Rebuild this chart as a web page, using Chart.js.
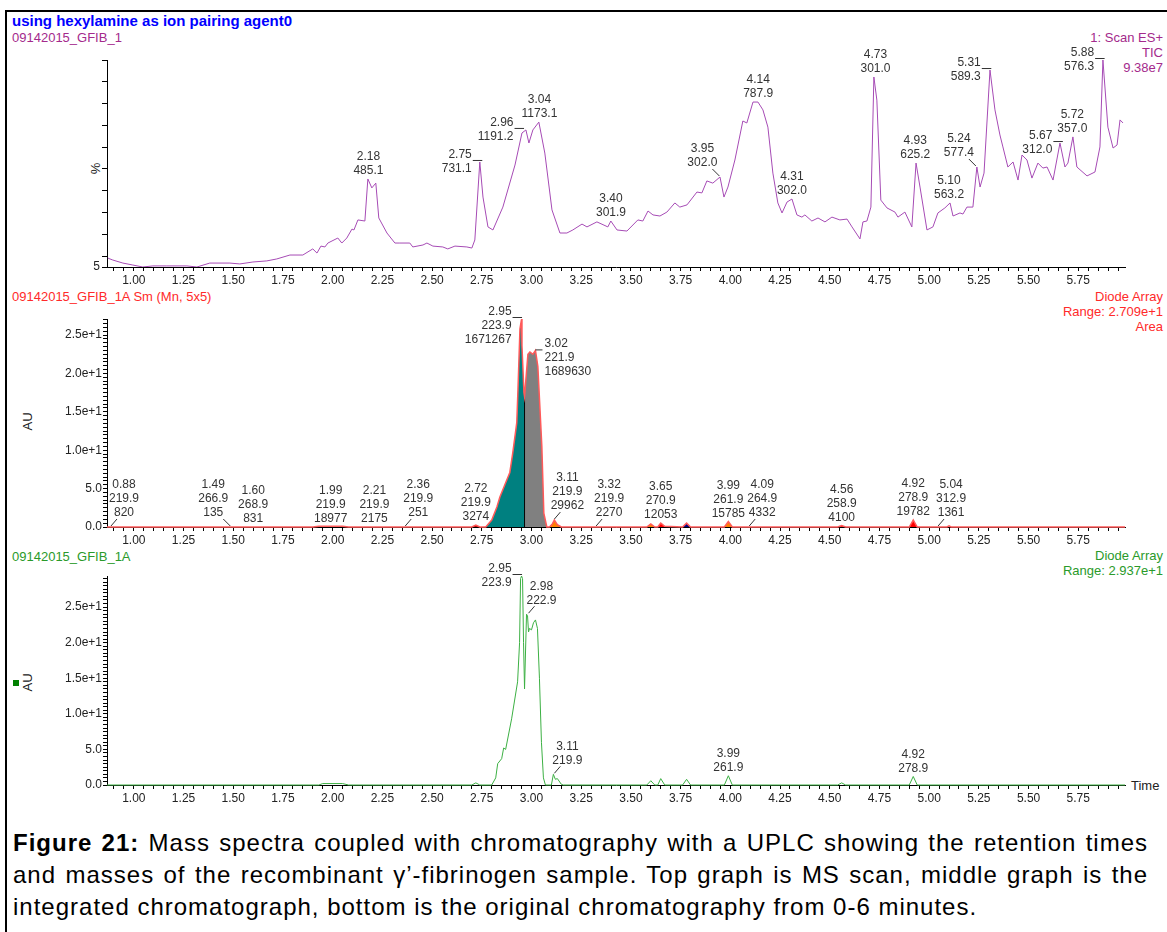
<!DOCTYPE html>
<html>
<head>
<meta charset="utf-8">
<script src="https://cdn.jsdelivr.net/npm/chart.js@4.4.0/dist/chart.umd.min.js"></script>
<style>
body { margin: 0; background: #fff; font-family: 'Liberation Sans', Arial, sans-serif; }
#page { position: relative; width: 1167px; height: 932px; overflow: hidden; }
.frame { position: absolute; left: 5px; top: 10px; width: 1180px; height: 960px; border-left: 2px solid #000; border-top: 2px solid #000; }
.t { position: absolute; font-size: 13px; line-height: 15px; white-space: nowrap; }
.rt { right: 4px; text-align: right; }
.rot { width: 30px; text-align: center; transform: rotate(-90deg); color: #222; }
.box { position: absolute; left: 0; }
.cap { position: absolute; left: 13px; top: 827px; width: 1135px; font-size: 24px; line-height: 32px; color: #000; letter-spacing: 1px; }
.cap div { white-space: nowrap; }
.j { text-align: justify; text-align-last: justify; }
</style>
</head>
<body>
<div id="page">
  <div class="frame"></div>

  <div class="t" style="left:12px;top:12px;line-height:17px;font-size:15px;color:#0000ff;font-weight:bold;">using hexylamine as ion pairing agent0</div>
  <div class="t" style="left:12px;top:30px;color:#a42a8c;">09142015_GFIB_1</div>
  <div class="t rt" style="top:30px;color:#a42a8c;">1: Scan ES+<br>TIC<br>9.38e7</div>
  <div class="t rot" style="left:80px;top:161px;">%</div>

  <div class="t" style="left:12px;top:289px;color:#ff2a2a;">09142015_GFIB_1A Sm (Mn, 5x5)</div>
  <div class="t rt" style="top:289px;color:#ff2a2a;">Diode Array<br>Range: 2.709e+1<br>Area</div>
  <div class="t rot" style="left:12px;top:414px;">AU</div>

  <div class="t" style="left:12px;top:549px;color:#2a9a2a;">09142015_GFIB_1A</div>
  <div class="t rt" style="top:548px;color:#2a9a2a;">Diode Array<br>Range: 2.937e+1</div>
  <div class="t rot" style="left:12px;top:675px;">AU</div>
  <div style="position:absolute;left:13px;top:680px;width:6px;height:6px;background:#008000;"></div>
  <div class="t" style="left:1131px;top:778px;color:#222;">Time</div>

  <div class="box" style="top:0px;"><canvas id="tic" width="1167" height="290"></canvas></div>
  <div class="box" style="top:290px;"><canvas id="area" width="1167" height="260"></canvas></div>
  <div class="box" style="top:550px;"><canvas id="raw" width="1167" height="260"></canvas></div>

  <div class="cap">
    <div class="j"><b>Figure 21:</b> Mass spectra coupled with chromatography with a UPLC showing the retention times</div>
    <div class="j">and masses of the recombinant γ’-fibrinogen sample. Top graph is MS scan, middle graph is the</div>
    <div>integrated chromatograph, bottom is the original chromatography from 0-6 minutes.</div>
  </div>
</div>

<script>
// time axis (minutes)
const TIME_MIN = 0.865;
const TIME_MAX = 5.985;

// top: TIC, % of max
const TIC_TIME = [0.869,0.894,0.945,0.995,1.045,1.096,1.166,1.267,1.317,1.382,
  1.483,1.533,1.599,1.669,1.719,1.785,1.850,1.900,1.921,1.941,
  1.961,1.976,2.026,2.046,2.071,2.097,2.107,2.127,2.162,2.177,
  2.197,2.217,2.232,2.273,2.313,2.338,2.388,2.403,2.454,2.474,
  2.504,2.554,2.579,2.615,2.675,2.700,2.715,2.740,2.756,2.781,
  2.806,2.856,2.917,2.952,2.972,2.987,3.007,3.037,3.067,3.103,
  3.143,3.178,3.208,3.254,3.279,3.329,3.384,3.399,3.430,3.480,
  3.535,3.560,3.586,3.611,3.646,3.681,3.721,3.746,3.782,3.832,
  3.857,3.882,3.912,3.948,3.968,3.988,4.023,4.063,4.083,4.114,
  4.139,4.164,4.189,4.214,4.239,4.260,4.285,4.310,4.335,4.360,
  4.375,4.410,4.441,4.476,4.511,4.551,4.587,4.612,4.652,4.667,
  4.687,4.707,4.722,4.737,4.757,4.788,4.828,4.843,4.878,4.913,
  4.934,4.954,4.989,5.019,5.044,5.079,5.105,5.120,5.155,5.170,
  5.190,5.220,5.240,5.256,5.276,5.306,5.331,5.356,5.371,5.396,
  5.422,5.447,5.467,5.492,5.517,5.547,5.572,5.593,5.623,5.658,
  5.683,5.698,5.723,5.743,5.794,5.834,5.859,5.874,5.899,5.925,
  5.945,5.960,5.975];
const TIC_PCT = [9.1,8.2,6.8,5.9,5.0,5.5,5.5,5.5,5.0,6.8,
  6.8,6.4,7.3,7.8,8.7,10.5,10.5,13.3,11.4,14.6,
  14.2,16.0,18.3,16.0,18.3,22.4,22.0,26.6,26.1,45.4,
  41.3,43.5,27.5,20.6,16.0,16.0,16.0,14.2,15.1,16.0,
  14.6,14.2,13.3,14.6,14.2,13.7,17.4,53.2,37.1,23.4,
  22.0,32.5,51.8,66.5,67.9,61.9,67.9,71.5,57.3,31.2,
  20.6,20.6,22.0,24.7,23.4,25.7,23.4,26.1,22.0,21.5,
  26.6,26.1,30.7,28.9,28.4,30.2,34.4,32.5,33.5,39.4,
  39.0,44.5,43.5,46.3,37.1,41.7,54.1,72.0,71.1,80.7,
  80.7,77.1,69.2,48.1,34.4,29.8,34.8,36.2,28.9,27.9,
  28.9,26.1,27.5,25.7,27.9,26.6,27.0,23.4,17.9,25.7,
  26.1,32.5,92.2,81.6,35.7,32.1,30.2,27.9,30.2,23.4,
  52.7,41.7,22.0,23.4,29.8,32.1,34.4,28.4,29.8,29.3,
  32.5,32.5,50.9,41.7,48.1,95.4,77.1,65.6,60.1,50.9,
  53.2,44.9,56.4,54.1,45.8,52.7,50.4,50.9,44.9,61.9,
  50.9,52.7,64.7,50.9,46.8,48.6,60.1,100,69.2,59.6,
  61.0,72.5,71.1];
const TIC_PEAK_TIME = [2.18,2.75,2.96,3.04,3.40,3.95,4.14,4.31,4.73,4.93,5.10,5.24,5.31,5.67,5.72,5.88];
const TIC_PEAK_MASS = ['485.1','731.1','1191.2','1173.1','301.9','302.0','787.9','302.0','301.0','625.2','563.2','577.4','589.3','312.0','357.0','576.3'];

// middle: smoothed diode array (AU) with integrated areas
const DA_TIME = [0.865,1.90,1.93,2.05,2.08,2.70,2.72,2.74,2.77,2.80,
  2.826,2.841,2.866,2.891,2.906,2.926,2.932,2.942,2.95,2.952,
  2.962,2.965,2.982,2.992,3.007,3.02,3.032,3.052,3.062,3.077,
  3.09,3.105,3.115,3.13,3.15,3.58,3.60,3.62,3.635,3.65,
  3.67,3.76,3.78,3.80,3.97,3.99,4.01,4.54,4.56,4.58,
  4.90,4.92,4.94,5.09,5.10,5.11,5.985];
const DA_AU = [0,0,0.1,0.1,0,0,0.25,0,0,0.9,
  2.6,3.9,5.5,7.1,9.7,13.6,17.9,25.8,27.09,23.6,
  17.5,17.0,22.5,22.8,22.5,23.0,20.9,10.5,1.8,0,
  0,0.4,0.9,0.3,0,0,0.4,0,0,0.5,
  0.1,0,0.5,0,0,0.7,0,0,0.2,0,
  0,0.9,0,0,0.15,0,0];
const AREA_FROM = [1.93,2.70,2.77,2.965,3.09,3.58,3.635,3.76,3.97,4.54,4.90];
const AREA_TO   = [2.08,2.74,2.965,3.077,3.15,3.62,3.67,3.80,4.01,4.58,4.94];
const DA_PEAK_TIME = [0.88,1.49,1.60,1.99,2.21,2.36,2.72,2.95,3.02,3.11,3.32,3.65,3.99,4.09,4.56,4.92,5.04];
const DA_PEAK_MASS = ['219.9','266.9','268.9','219.9','219.9','219.9','219.9','223.9','221.9','219.9','219.9','270.9','261.9','264.9','258.9','278.9','312.9'];
const DA_PEAK_AREA = ['820','135','831','18977','2175','251','3274','1671267','1689630','29962','2270','12053','15785','4332','4100','19782','1361'];

// bottom: raw diode array (AU)
const RAW_TIME = [0.865,1.93,1.95,2.05,2.08,2.70,2.72,2.74,2.80,2.82,
  2.83,2.85,2.86,2.87,2.90,2.93,2.94,2.945,2.95,2.955,
  2.96,2.965,2.975,2.98,2.985,2.99,3.00,3.01,3.02,3.03,
  3.04,3.05,3.06,3.07,3.10,3.11,3.12,3.13,3.15,3.16,
  3.58,3.60,3.62,3.635,3.65,3.67,3.76,3.78,3.80,3.97,
  3.99,4.01,4.54,4.56,4.58,4.90,4.92,4.94,5.985];
const RAW_AU = [0,0,0.2,0.2,0,0,0.3,0,0,1.0,
  3.0,3.7,5.2,5.0,9.3,14.5,20.0,29.0,29.37,29.0,
  20.0,13.5,24.0,23.8,21.5,22.0,21.8,22.8,23.2,22.0,
  15.0,6.0,1.0,0,0,1.5,0.8,0.9,0.1,0,
  0,0.6,0,0,0.9,0,0,0.8,0,0,
  1.3,0,0,0.3,0,0,1.2,0,0];
const RAW_PEAK_TIME = [2.95,2.98,3.11,3.99,4.92];
const RAW_PEAK_MASS = ['223.9','222.9','219.9','261.9','278.9'];

// ---- styling ----
const AREA_COLOR = ['#000080','#c00000','#008080','#808080','#ff8000','#ff8000','#ff0000','#000080','#ff8000','#ff0000','#ff0000'];
const TIC_MODES = ['c','l','l','c','c','dl','c','c','c','c','c','dl','l','l','c','l'];
const DA_MODES = ['dr','dl','c','c','c','dr','c','l','r','dr','dr','c','c','dr','c','c','dr'];
const RAW_MODES = ['l','dr','dr','c','c'];

Chart.defaults.font.family = "'Liberation Sans', Arial, sans-serif";
Chart.defaults.font.size = 12;
Chart.defaults.color = '#222';

const pts = (ts, vs) => ts.map((t, i) => ({x: t, y: vs[i]}));

const peakLabels = {
  id: 'peakLabels',
  afterDatasetsDraw(chart, args, o) {
    if (!o.times) return;
    const {ctx} = chart;
    const x = chart.scales.x, y = chart.scales.y;
    ctx.save();
    ctx.font = "12px 'Liberation Sans', Arial, sans-serif";
    ctx.fillStyle = '#333';
    ctx.strokeStyle = '#333';
    ctx.lineWidth = 1;
    ctx.textBaseline = 'middle';
    o.times.forEach((t, i) => {
      let v = -Infinity;
      o.traceT.forEach((tt, j) => { if (Math.abs(tt - t) <= 0.0155 && o.traceV[j] > v) v = o.traceV[j]; });
      if (v === -Infinity) v = 0;
      const px = x.getPixelForValue(t), py = y.getPixelForValue(v);
      const lines = [t.toFixed(2)].concat(o.rows.map(r => r[i]));
      const n = lines.length;
      const mode = o.modes[i];
      let cx = px, y0 = py - 8 - (n - 1) * 14, align = 'center';
      ctx.beginPath();
      if (mode === 'l') {
        align = 'right'; cx = px - 10; y0 = py - 7;
        ctx.moveTo(px - 9, py - 1.5); ctx.lineTo(px + 0.5, py - 1.5);
      } else if (mode === 'r') {
        align = 'left'; cx = px + 9; y0 = py - 7;
        ctx.moveTo(px, py - 0.5); ctx.lineTo(px + 7, py - 0.5);
      } else if (mode === 'dr') {
        cx = px + 14; y0 = py - 14 - (n - 1) * 14;
        ctx.moveTo(px + 1, py - 1); ctx.lineTo(px + 7, py - 8);
      } else if (mode === 'dl') {
        cx = px - 18; y0 = py - 14 - (n - 1) * 14;
        ctx.moveTo(px - 1, py - 1); ctx.lineTo(px - 8, py - 8);
      }
      ctx.stroke();
      ctx.textAlign = align;
      lines.forEach((s, k) => ctx.fillText(s, cx, y0 + k * 14));
    });
    ctx.restore();
  }
};

function xScale() {
  return {
    type: 'linear', min: TIME_MIN, max: TIME_MAX,
    afterFit: s => { s.height = 23; },
    grid: {drawOnChartArea: false, tickLength: 4, color: '#000'},
    border: {display: true, color: '#000'},
    ticks: {
      stepSize: 0.05, includeBounds: false, autoSkip: false, maxRotation: 0,
      maxTicksLimit: 1000, padding: 2,
      callback: v => Math.abs(v * 4 - Math.round(v * 4)) < 1e-6 ? v.toFixed(2) : ''
    }
  };
}

function auScale(max) {
  return {
    min: 0, max: max,
    afterFit: s => { s.width = 107; },
    grid: {drawOnChartArea: false, tickLength: 4, color: '#000'},
    border: {display: true, color: '#000'},
    ticks: {
      stepSize: 0.5, includeBounds: false, autoSkip: false, maxTicksLimit: 1000, padding: 1,
      callback: v => {
        if (Math.abs(v / 5 - Math.round(v / 5)) > 1e-6) return '';
        return v < 10 ? v.toFixed(1) : (v / 10).toFixed(1) + 'e+1';
      }
    }
  };
}

function baseOptions(padTop, scales, labels) {
  return {
    responsive: false, animation: false,
    layout: {padding: {top: padTop, left: 0, right: 42, bottom: 0}},
    plugins: {legend: {display: false}, tooltip: {enabled: false}, title: {display: false}, peakLabels: labels},
    elements: {point: {radius: 0}, line: {tension: 0}},
    scales: scales
  };
}

// top chart
new Chart(document.getElementById('tic'), {
  type: 'line',
  data: {datasets: [{data: pts(TIC_TIME, TIC_PCT), borderColor: '#a64bb5', borderWidth: 1, fill: false}]},
  options: baseOptions(60, {
    x: xScale(),
    y: {
      min: 5, max: 100,
      afterFit: s => { s.width = 107; },
      grid: {drawOnChartArea: false, tickLength: 5, color: '#000'},
      border: {display: true, color: '#000'},
      ticks: {stepSize: 10, autoSkip: false, padding: 2, callback: v => v === 5 ? '5' : ''}
    }
  }, {times: TIC_PEAK_TIME, rows: [TIC_PEAK_MASS], modes: TIC_MODES, traceT: TIC_TIME, traceV: TIC_PCT}),
  plugins: [peakLabels]
});

// middle chart
const daPts = pts(DA_TIME, DA_AU);
const areaSets = AREA_FROM.map((a, i) => ({
  data: daPts.filter(p => p.x >= a - 1e-9 && p.x <= AREA_TO[i] + 1e-9),
  borderWidth: 0, borderColor: 'rgba(0,0,0,0)', backgroundColor: AREA_COLOR[i],
  fill: 'origin', order: 2, clip: 4
}));
const split = AREA_TO[2];
const splitV = DA_AU[DA_TIME.indexOf(split)];
new Chart(document.getElementById('area'), {
  type: 'line',
  data: {datasets: areaSets.concat([
    {data: [{x: split, y: 0}, {x: split, y: splitV}], borderColor: '#000', borderWidth: 1, fill: false, order: 1, clip: 4},
    {data: daPts, borderColor: '#ff5a5a', borderWidth: 1.5, fill: false, order: 0, clip: 4}
  ])},
  options: baseOptions(29, {x: xScale(), y: auScale(27.09)},
    {times: DA_PEAK_TIME, rows: [DA_PEAK_MASS, DA_PEAK_AREA], modes: DA_MODES, traceT: DA_TIME, traceV: DA_AU}),
  plugins: [peakLabels]
});

// bottom chart
new Chart(document.getElementById('raw'), {
  type: 'line',
  data: {datasets: [{data: pts(RAW_TIME, RAW_AU), borderColor: '#3cb043', borderWidth: 1, fill: false, clip: 4}]},
  options: baseOptions(26, {x: Object.assign(xScale(), {afterFit: s => { s.height = 25; }}), y: auScale(29.37)},
    {times: RAW_PEAK_TIME, rows: [RAW_PEAK_MASS], modes: RAW_MODES, traceT: RAW_TIME, traceV: RAW_AU}),
  plugins: [peakLabels]
});
</script>
</body>
</html>
